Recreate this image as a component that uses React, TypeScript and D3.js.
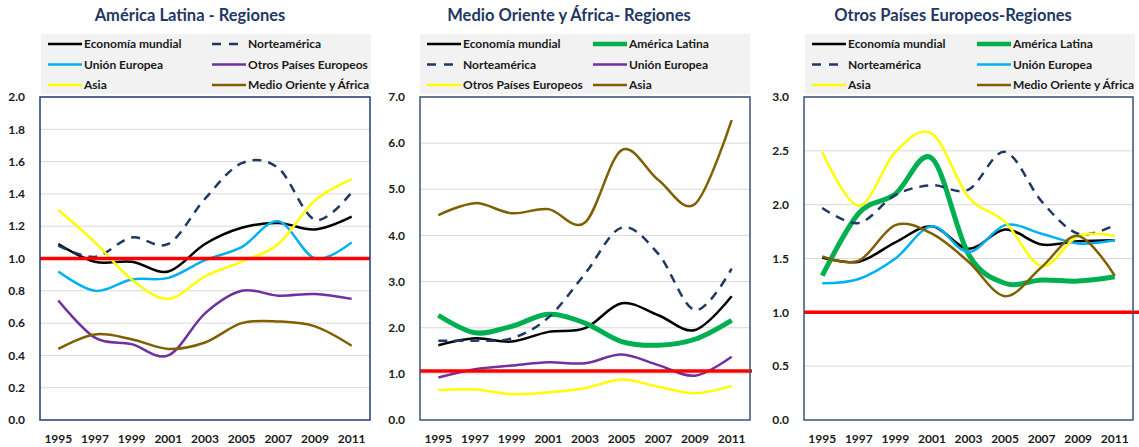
import React, { useEffect, useRef } from "react";
import * as d3 from "d3";

// años (solo impares, como en el original)
const years = ["1995", "1997", "1999", "2001", "2003", "2005", "2007", "2009", "2011"];

// --- Panel 1: América Latina - Regiones
const al_economia = [1.09, 0.98, 0.98, 0.92, 1.09, 1.19, 1.22, 1.18, 1.26];
const al_norteamerica = [1.08, 1.01, 1.13, 1.09, 1.37, 1.59, 1.56, 1.24, 1.41];
const al_ue = [0.92, 0.8, 0.87, 0.88, 0.99, 1.07, 1.23, 1.0, 1.1];
const al_otrosEur = [0.74, 0.51, 0.47, 0.4, 0.66, 0.8, 0.77, 0.78, 0.75];
const al_asia = [1.3, 1.1, 0.87, 0.75, 0.89, 0.98, 1.09, 1.36, 1.49];
const al_mOriente = [0.44, 0.53, 0.5, 0.44, 0.48, 0.6, 0.61, 0.58, 0.46];

// --- Panel 2: Medio Oriente y África - Regiones
const mo_economia = [1.62, 1.77, 1.7, 1.91, 1.99, 2.53, 2.27, 1.95, 2.68];
const mo_alatina = [2.27, 1.89, 2.03, 2.29, 2.1, 1.7, 1.62, 1.75, 2.16];
const mo_norteamerica = [1.72, 1.72, 1.77, 2.22, 3.17, 4.17, 3.6, 2.38, 3.28];
const mo_ue = [0.92, 1.1, 1.18, 1.25, 1.23, 1.42, 1.19, 0.96, 1.37];
const mo_otrosEur = [0.65, 0.66, 0.56, 0.6, 0.69, 0.88, 0.72, 0.58, 0.74];
const mo_asia = [4.44, 4.7, 4.48, 4.57, 4.28, 5.85, 5.2, 4.68, 6.5];

// --- Panel 3: Otros Países Europeos - Regiones
const oe_economia = [1.51, 1.47, 1.65, 1.8, 1.59, 1.77, 1.63, 1.66, 1.67];
const oe_alatina = [1.34, 1.92, 2.1, 2.43, 1.54, 1.27, 1.3, 1.29, 1.33];
const oe_norteamerica = [1.97, 1.83, 2.09, 2.18, 2.14, 2.49, 2.03, 1.73, 1.81];
const oe_ue = [1.27, 1.31, 1.5, 1.8, 1.56, 1.81, 1.73, 1.64, 1.67];
const oe_asia = [2.49, 1.99, 2.49, 2.66, 2.07, 1.84, 1.43, 1.71, 1.71];
const oe_mOriente = [1.52, 1.48, 1.81, 1.73, 1.47, 1.15, 1.42, 1.71, 1.34];

const titles = ["América Latina - Regiones", "Medio Oriente y África- Regiones", "Otros Países Europeos-Regiones"];
const yMax = [2.0, 7.0, 3.0];
const yTicks = [
  [0, 0.2, 0.4, 0.6, 0.8, 1.0, 1.2, 1.4, 1.6, 1.8, 2.0],
  [0, 1, 2, 3, 4, 5, 6, 7],
  [0, 0.5, 1.0, 1.5, 2.0, 2.5, 3.0],
];
const refValue = [1.0, 1.06, 1.0];

const styles: Record<string, { color: string; width: number; dash?: string }> = {
  "Economía mundial": { color: "#000000", width: 2.5 },
  "Norteamérica": { color: "#1f3864", width: 2.5, dash: "9,7" },
  "América Latina": { color: "#00b050", width: 5 },
  "Unión Europea": { color: "#00b0f0", width: 2.5 },
  "Otros Países Europeos": { color: "#7030a0", width: 2.5 },
  "Asia": { color: "#ffff00", width: 2.5 },
  "Medio Oriente y África": { color: "#7f6000", width: 2.5 },
};

// el panel 2 usa otros colores para algunas series
const styles2: Record<string, { color: string; width: number; dash?: string }> = {
  ...styles,
  "Unión Europea": { color: "#7030a0", width: 2.5 },
  "Otros Países Europeos": { color: "#ffff00", width: 2.5 },
  "Asia": { color: "#7f6000", width: 2.5 },
};

const panels = [
  {
    series: [
      { name: "Economía mundial", values: al_economia },
      { name: "Norteamérica", values: al_norteamerica },
      { name: "Unión Europea", values: al_ue },
      { name: "Otros Países Europeos", values: al_otrosEur },
      { name: "Asia", values: al_asia },
      { name: "Medio Oriente y África", values: al_mOriente },
    ],
    style: styles,
  },
  {
    series: [
      { name: "Economía mundial", values: mo_economia },
      { name: "América Latina", values: mo_alatina },
      { name: "Norteamérica", values: mo_norteamerica },
      { name: "Unión Europea", values: mo_ue },
      { name: "Otros Países Europeos", values: mo_otrosEur },
      { name: "Asia", values: mo_asia },
    ],
    style: styles2,
  },
  {
    series: [
      { name: "Economía mundial", values: oe_economia },
      { name: "América Latina", values: oe_alatina },
      { name: "Norteamérica", values: oe_norteamerica },
      { name: "Unión Europea", values: oe_ue },
      { name: "Asia", values: oe_asia },
      { name: "Medio Oriente y África", values: oe_mOriente },
    ],
    style: styles,
  },
];

// layout por panel
const layout = [
  { ox: 0, left: 40, right: 370, legL: 41, legR: 371, col2: 164, titleX: 190, refR: 370 },
  { ox: 380, left: 40, right: 370, legL: 40, legR: 370, col2: 166, titleX: 189, refR: 372 },
  { ox: 760, left: 44, right: 373, legL: 45, legR: 375, col2: 165, titleX: 193, refR: 379 },
];

const W = 1139;
const H = 447;
const TOP = 97;
const BOTTOM = 420;

const App: React.FC = () => {
  const svgRef = useRef<SVGSVGElement | null>(null);

  useEffect(() => {
    if (!svgRef.current) return;
    const svg = d3.select(svgRef.current);
    svg.selectAll("*").remove();

    const font = "Lato, 'Open Sans', sans-serif";

    panels.forEach((panel, pi) => {
      const L = layout[pi];
      const g = svg.append("g").attr("transform", `translate(${L.ox},0)`);
      const st = panel.style;

      const x = d3.scalePoint<string>().domain(years).range([L.left, L.right]).padding(0.5);
      const y = d3.scaleLinear().domain([0, yMax[pi]]).range([BOTTOM, TOP]);

      // title
      g.append("text")
        .attr("x", L.titleX)
        .attr("y", 21)
        .attr("text-anchor", "middle")
        .attr("font-family", font)
        .attr("font-weight", "bold")
        .attr("font-size", 16.5)
        .attr("fill", "#1f3864")
        .text(titles[pi]);

      // legend
      g.append("rect")
        .attr("x", L.legL)
        .attr("y", 34)
        .attr("width", L.legR - L.legL)
        .attr("height", 60)
        .attr("fill", "#f2f2f2");

      panel.series.forEach((s, i) => {
        const col = i % 2;
        const row = Math.floor(i / 2);
        const lx = L.legL + 7 + col * L.col2;
        const ly = 44 + row * 20.5;
        const sty = st[s.name];
        g.append("line")
          .attr("x1", lx)
          .attr("x2", lx + 34)
          .attr("y1", ly)
          .attr("y2", ly)
          .attr("stroke", sty.color)
          .attr("stroke-width", sty.width === 5 ? 4.5 : 2.5)
          .attr("stroke-dasharray", sty.dash ? "9,8" : null);
        g.append("text")
          .attr("x", lx + 36)
          .attr("y", ly)
          .attr("dy", "0.35em")
          .attr("font-family", font)
          .attr("font-weight", "bold")
          .attr("font-size", 12)
          .attr("fill", "#1a1a1a")
          .text(s.name);
      });

      // gridlines
      g.append("g")
        .selectAll("line")
        .data(yTicks[pi].slice(1))
        .join("line")
        .attr("x1", L.left)
        .attr("x2", L.right)
        .attr("y1", (d) => y(d))
        .attr("y2", (d) => y(d))
        .attr("stroke", "#d9d9d9")
        .attr("stroke-width", 1);

      // y tick labels
      g.append("g")
        .selectAll("text")
        .data(yTicks[pi])
        .join("text")
        .attr("x", L.left - 15)
        .attr("y", (d) => y(d))
        .attr("dy", "0.35em")
        .attr("text-anchor", "end")
        .attr("font-family", font)
        .attr("font-weight", "bold")
        .attr("font-size", 12)
        .attr("fill", "#1a1a1a")
        .text((d) => d3.format(".1f")(d));

      // x tick labels
      g.append("g")
        .selectAll("text")
        .data(years)
        .join("text")
        .attr("x", (d) => x(d) as number)
        .attr("y", 443)
        .attr("text-anchor", "middle")
        .attr("font-family", font)
        .attr("font-weight", "bold")
        .attr("font-size", 12)
        .attr("fill", "#1a1a1a")
        .text((d) => d);

      // lines
      const line = d3
        .line<number>()
        .x((_, i) => x(years[i]) as number)
        .y((d) => y(d))
        .curve(d3.curveCatmullRom.alpha(0));

      panel.series.forEach((s) => {
        const sty = st[s.name];
        g.append("path")
          .attr("d", line(s.values) || "")
          .attr("fill", "none")
          .attr("stroke", sty.color)
          .attr("stroke-width", sty.width)
          .attr("stroke-dasharray", sty.dash || null)
          .attr("stroke-linejoin", "round");
      });

      // reference line
      g.append("line")
        .attr("x1", L.left)
        .attr("x2", L.refR)
        .attr("y1", y(refValue[pi]))
        .attr("y2", y(refValue[pi]))
        .attr("stroke", "#ff0000")
        .attr("stroke-width", 3.5);

      // plot border
      g.append("rect")
        .attr("x", L.left)
        .attr("y", TOP)
        .attr("width", L.right - L.left)
        .attr("height", BOTTOM - TOP)
        .attr("fill", "none")
        .attr("stroke", pi === 0 ? "#1f3c78" : "#3b507e")
        .attr("stroke-width", 1.5);
    });
  }, []);

  return (
    <svg
      ref={svgRef}
      width={W}
      height={H}
      viewBox={`0 0 ${W} ${H}`}
      style={{ position: "absolute", left: 0, top: 0, background: "#ffffff" }}
    />
  );
};

export default App;
